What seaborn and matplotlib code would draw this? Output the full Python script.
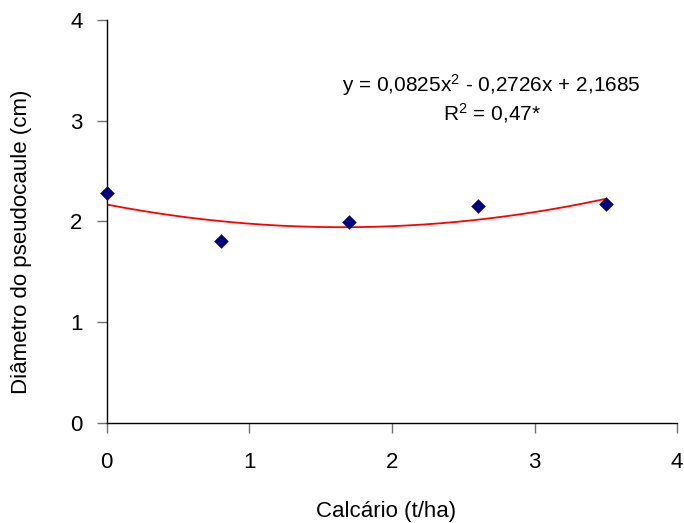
import numpy as np
import pandas as pd
import matplotlib
matplotlib.use("Agg")
import matplotlib.pyplot as plt
import seaborn as sns

# Data
calcario = [0.0, 0.8, 1.7, 2.6, 3.5]
diametro = [2.28, 1.81, 1.99, 2.15, 2.17]
coef = [0.0825, -0.2726, 2.1685]  # quadratic trendline coefficients (a, b, c)
x_ticks = [0, 1, 2, 3, 4]
y_ticks = [0, 1, 2, 3, 4]
eq_text = "y = 0,0825x$^2$ - 0,2726x + 2,1685"
r2_text = "R$^2$ = 0,47*"
x_label = "Calcário (t/ha)"
y_label = "Diâmetro do pseudocaule (cm)"

sns.set_style("white")
plt.rcParams["font.family"] = ["Liberation Sans", "DejaVu Sans"]
plt.rcParams["mathtext.fontset"] = "custom"
plt.rcParams["mathtext.rm"] = "Liberation Sans"
plt.rcParams["mathtext.it"] = "Liberation Sans"
plt.rcParams["text.color"] = "black"
plt.rcParams["axes.labelcolor"] = "black"

fig = plt.figure(figsize=(6.84, 5.23), dpi=100)
ax = fig.add_axes([0.156, 0.191, 0.834, 0.771])

df = pd.DataFrame({"x": calcario, "y": diametro})
xs = np.linspace(min(calcario), max(calcario), 200)
trend = pd.DataFrame({"x": xs, "y": np.polyval(coef, xs)})

sns.lineplot(data=trend, x="x", y="y", ax=ax, color="#ff0000", linewidth=1.3, zorder=2)
sns.scatterplot(data=df, x="x", y="y", ax=ax, marker="D", color="#000080",
                s=55, edgecolor="#000080", linewidth=0, zorder=3, clip_on=False)

ax.set_xlim(0, 4)
ax.set_ylim(0, 4)
ax.set_xticks(x_ticks)
ax.set_yticks(y_ticks)
ax.set_xticklabels([str(v) for v in x_ticks])
ax.set_yticklabels([str(v) for v in y_ticks])

for side in ["top", "right"]:
    ax.spines[side].set_visible(False)
for side in ["left", "bottom"]:
    ax.spines[side].set_color("black")
    ax.spines[side].set_linewidth(1.0)

ax.tick_params(axis="both", which="major", bottom=True, left=True, direction="out",
               length=7.5, width=1, color="#707070", labelsize=16, labelcolor="black")
ax.tick_params(axis="x", pad=13)
ax.tick_params(axis="y", pad=10)

ax.set_xlabel(x_label, fontsize=16, va="center", color="black")
ax.set_ylabel(y_label, fontsize=16, va="center", color="black")
ax.xaxis.set_label_coords(0.49, -0.218)
ax.yaxis.set_label_coords(-0.150, 0.449)

ax.text(0.675, 0.839, eq_text, transform=ax.transAxes, ha="center", va="center",
        fontsize=15, color="black")
ax.text(0.675, 0.769, r2_text, transform=ax.transAxes, ha="center", va="center",
        fontsize=15, color="black")

fig.savefig("out.png", dpi=100)
